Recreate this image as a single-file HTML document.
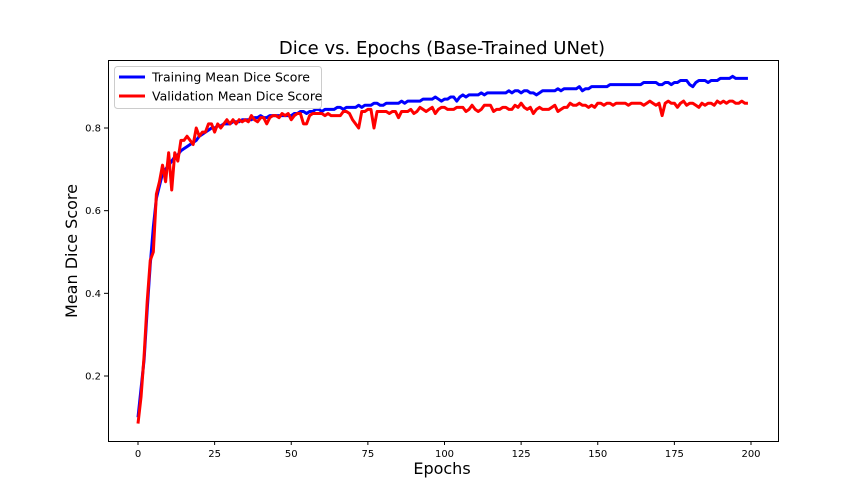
<!DOCTYPE html>
<html><head><meta charset="utf-8"><style>
body{margin:0;background:#fff;}
svg{display:block;font-family:"DejaVu Sans","Liberation Sans",sans-serif;}
</style></head><body>
<svg id="chart" width="864" height="504">
<text x="442" y="54" text-anchor="middle" font-size="18">Dice vs. Epochs (Base-Trained UNet)</text>
<text x="442" y="474" text-anchor="middle" font-size="16">Epochs</text>
<text transform="translate(77,251) rotate(-90)" text-anchor="middle" font-size="16">Mean Dice Score</text>
<g id="ticks"></g>
<g id="series"></g>
<rect x="108.5" y="60.5" width="670" height="381" fill="none" stroke="#000" stroke-width="1"/>
<g>
<rect x="114.5" y="66.5" width="207" height="42" rx="3" fill="#fff" fill-opacity="0.8" stroke="#ccc"/>
<g>
<line x1="119" y1="77" x2="145" y2="77" stroke="#00f" stroke-width="3"/>
<text x="152" y="81.5" font-size="12.5">Training Mean Dice Score</text></g>
<g>
<line x1="119" y1="96" x2="145" y2="96" stroke="#f00" stroke-width="3"/>
<text x="152" y="100.5" font-size="12.5">Validation Mean Dice Score</text></g>
</g>
</svg>
<script>
const xTicks=[0,25,50,75,100,125,150,175,200];
const yTicks=[0.2,0.4,0.6,0.8];
const trainScores=[.10,.17,.24,.36,.47,.56,.63,.66,.69,.70,
.71,.72,.73,.735,.745,.75,.755,.76,.765,.77,
.78,.785,.79,.795,.80,.80,.805,.805,.81,.81,
.81,.815,.815,.815,.82,.82,.82,.82,.825,.825,
.83,.825,.825,.83,.83,.83,.83,.83,.83,.83,
.83,.835,.835,.84,.84,.835,.84,.84,.845,.845,
.84,.845,.845,.845,.845,.85,.85,.845,.85,.85,
.85,.85,.855,.85,.855,.855,.855,.86,.86,.855,
.855,.86,.86,.86,.86,.86,.865,.86,.865,.865,
.865,.865,.865,.87,.87,.87,.87,.875,.87,.865,
.87,.87,.875,.875,.865,.875,.88,.875,.88,.88,
.88,.88,.885,.88,.885,.885,.885,.885,.885,.885,
.885,.89,.885,.89,.89,.885,.89,.89,.885,.885,
.88,.885,.89,.89,.89,.89,.89,.895,.89,.895,
.895,.895,.895,.895,.9,.89,.895,.895,.9,.9,
.9,.9,.9,.9,.905,.905,.905,.905,.905,.905,
.905,.905,.905,.905,.905,.91,.91,.91,.91,.91,
.905,.905,.91,.91,.905,.91,.91,.915,.915,.915,
.905,.9,.91,.915,.915,.915,.91,.915,.915,.915,
.92,.92,.92,.92,.925,.92,.92,.92,.92,.92];
const valScores=[.085,.15,.25,.38,.48,.50,.64,.67,.71,.67,
.74,.65,.74,.72,.77,.77,.78,.77,.76,.80,
.78,.79,.79,.81,.81,.79,.81,.80,.81,.82,
.81,.82,.81,.82,.815,.82,.815,.83,.82,.815,
.825,.825,.81,.825,.83,.83,.825,.835,.83,.835,
.82,.83,.835,.835,.81,.81,.83,.835,.835,.835,
.835,.83,.835,.83,.83,.83,.83,.84,.84,.835,
.82,.81,.80,.84,.84,.845,.845,.80,.84,.84,
.84,.84,.835,.84,.84,.825,.84,.84,.84,.845,
.835,.84,.85,.845,.84,.845,.85,.835,.845,.85,
.85,.845,.845,.845,.85,.85,.85,.84,.845,.855,
.845,.84,.845,.855,.855,.855,.84,.845,.845,.85,
.85,.845,.845,.855,.85,.86,.85,.845,.85,.835,
.845,.85,.845,.845,.845,.85,.855,.84,.845,.85,
.85,.86,.855,.855,.86,.855,.855,.85,.855,.85,
.86,.86,.855,.86,.86,.855,.86,.86,.86,.86,
.855,.86,.86,.86,.86,.855,.86,.865,.86,.855,
.86,.83,.86,.865,.86,.86,.85,.86,.865,.855,
.86,.86,.855,.85,.86,.855,.86,.86,.855,.865,
.86,.865,.86,.865,.865,.86,.86,.865,.86,.86];
const NS='http://www.w3.org/2000/svg';
function xScale(e){return 138+e*(751-138)/200;}
function yScale(v){return 376-(v-0.2)*(376-128)/0.6;}
const tg=document.getElementById('ticks');
xTicks.forEach(t=>{
 const l=document.createElementNS(NS,'line');
 l.setAttribute('x1',xScale(t));l.setAttribute('x2',xScale(t));
 l.setAttribute('y1',441);l.setAttribute('y2',445);l.setAttribute('stroke','#000');
 
 
 tg.appendChild(l);
 const tx=document.createElementNS(NS,'text');
 tx.setAttribute('x',xScale(t));tx.setAttribute('y',457);tx.setAttribute('text-anchor','middle');tx.setAttribute('font-size','10');
 tx.textContent=t;
 
 
 tg.appendChild(tx);
});
yTicks.forEach(t=>{
 const l=document.createElementNS(NS,'line');
 l.setAttribute('x1',104);l.setAttribute('x2',108);
 l.setAttribute('y1',yScale(t));l.setAttribute('y2',yScale(t));l.setAttribute('stroke','#000');
 
 
 tg.appendChild(l);
 const tx=document.createElementNS(NS,'text');
 tx.setAttribute('x',101);tx.setAttribute('y',yScale(t)+3.5);tx.setAttribute('text-anchor','end');tx.setAttribute('font-size','10');
 tx.textContent=t.toFixed(1);
 
 
 tg.appendChild(tx);
});
const sg=document.getElementById('series');
function drawLine(vals,color,name){
 const p=document.createElementNS(NS,'polyline');
 p.setAttribute('points',vals.map((v,i)=>xScale(i).toFixed(2)+','+yScale(v).toFixed(2)).join(' '));
 p.setAttribute('fill','none');p.setAttribute('stroke',color);p.setAttribute('stroke-width','3');p.setAttribute('stroke-linejoin','round');
 
 
 sg.appendChild(p);
}
drawLine(trainScores,'#0000ff','training-line');
drawLine(valScores,'#ff0000','validation-line');
</script>
</body></html>
